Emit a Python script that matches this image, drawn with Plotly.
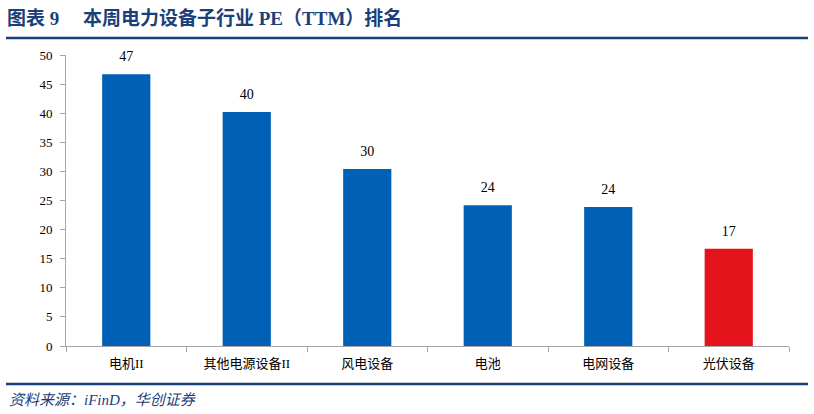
import plotly.graph_objects as go

categories = ["电机II", "其他电源设备II", "风电设备", "电池", "电网设备", "光伏设备"]
values = [46.7, 40.2, 30.4, 24.2, 23.9, 16.7]
colors = ["#0060B6", "#0060B6", "#0060B6", "#0060B6", "#0060B6", "#E3121B"]
y_ticks = [0, 5, 10, 15, 20, 25, 30, 35, 40, 45, 50]

FONT = "Liberation Serif, Times New Roman, Noto Sans CJK SC, serif"
DARK = "#1B3F7A"

W, H = 814, 414
# plot area in page pixels
PL, PR, PT, PB = 66, 789, 55, 346
PW, PH = PR - PL, PB - PT

def px(x):
    return (x - PL) / PW

def py(y):
    return (PB - y) / PH

fig = go.Figure()
fig.add_trace(go.Bar(
    x=categories, y=values,
    marker=dict(color=colors, line=dict(width=0)),
    hoverinfo="x+y",
))
fig.add_trace(go.Scatter(
    x=categories, y=values, mode="markers+text",
    marker=dict(size=14, color="rgba(0,0,0,0)"),
    text=[f"{v:.0f}" for v in values], textposition="top center",
    textfont=dict(family=FONT, size=14, color="#000000"),
    cliponaxis=False, hoverinfo="skip",
))

fig.update_layout(
    width=W, height=H,
    margin=dict(l=PL, r=W - PR, t=PT, b=H - PB),
    paper_bgcolor="white", plot_bgcolor="white",
    bargap=0.6, showlegend=False,
    font=dict(family=FONT, size=13, color="#000000"),
    xaxis=dict(
        showline=True, linecolor="#A6A6A6", linewidth=1,
        ticks="outside", tickson="boundaries", ticklen=5, tickcolor="#A6A6A6",
        ticklabelstandoff=5,
        tickfont=dict(family=FONT, size=13), showgrid=False,
    ),
    yaxis=dict(
        range=[0, 50], tickvals=y_ticks,
        showline=True, linecolor="#A6A6A6", linewidth=1,
        ticks="outside", ticklen=5, tickcolor="#A6A6A6",
        ticklabelstandoff=5,
        tickfont=dict(family=FONT, size=13), showgrid=False, zeroline=False,
    ),
    shapes=[
        dict(type="line", xref="paper", yref="paper", x0=px(6), x1=px(808),
             y0=py(38), y1=py(38), line=dict(color=DARK, width=2.5)),
        dict(type="line", xref="paper", yref="paper", x0=px(6), x1=px(808),
             y0=py(384), y1=py(384), line=dict(color=DARK, width=2.5)),
    ],
    annotations=[
        dict(text="<b>图表\u00a09\u3000\u00a0本周电力设备子行业 PE（TTM）排名</b>", xref="paper", yref="paper",
             x=px(5), y=py(18), xanchor="left", yanchor="middle", showarrow=False,
             font=dict(family=FONT, size=19, color=DARK)),
        dict(text="<i>资料来源：iFinD，华创证券</i>", xref="paper", yref="paper",
             x=px(7), y=py(400), xanchor="left", yanchor="middle", showarrow=False,
             font=dict(family=FONT, size=15, color=DARK)),
    ],
)

fig.write_html("out.html", config={"displayModeBar": False},
               post_script="document.body.style.margin='0';")
